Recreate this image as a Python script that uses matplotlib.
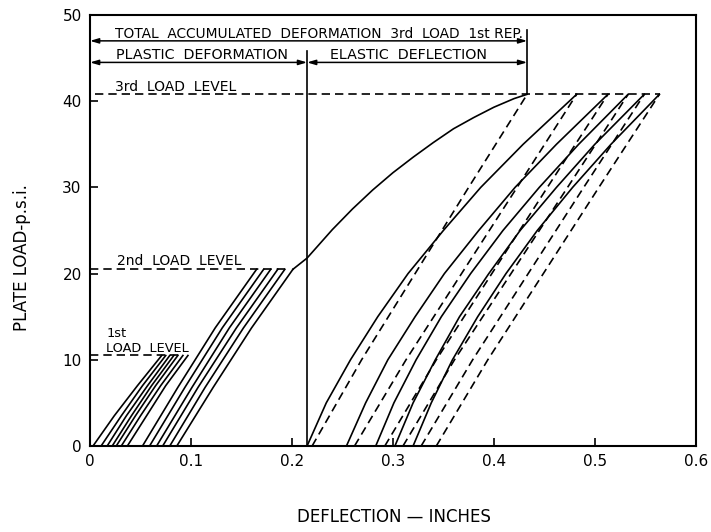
import matplotlib
matplotlib.use("Agg")
import matplotlib.pyplot as plt

## ========================================================
## data (deflection in inches, load in psi)
## ========================================================
load1 = 10.5
load2 = 20.5
load3 = 40.8

# 1st load level: x of each repetition at the load steps in rep1_y
rep1_y = [0, 3.5, 7.0, load1]
rep1_x = [
    [0.003, 0.024, 0.047, 0.071],
    [0.011, 0.031, 0.052, 0.075],
    [0.017, 0.036, 0.057, 0.079],
    [0.022, 0.041, 0.061, 0.083],
    [0.026, 0.045, 0.065, 0.087],
    [0.031, 0.050, 0.070, 0.092],
    [0.037, 0.056, 0.075, 0.097],
]

# 2nd load level
rep2_y = [0, 6.8, 13.7, load2]
rep2_x = [
    [0.052, 0.087, 0.124, 0.165],
    [0.059, 0.094, 0.131, 0.172],
    [0.066, 0.101, 0.138, 0.179],
    [0.072, 0.107, 0.145, 0.186],
    [0.079, 0.114, 0.152, 0.193],
    [0.086, 0.122, 0.160, 0.201],
]

# 3rd load, 1st repetition (continues the last 2nd-level curve)
first3_x = [0.201, 0.215, 0.240, 0.260, 0.280, 0.300, 0.320, 0.340,
            0.360, 0.380, 0.400, 0.420, 0.433]
first3_y = [20.5, 21.8, 25.1, 27.5, 29.7, 31.7, 33.5, 35.2,
            36.8, 38.1, 39.3, 40.3, 40.8]

# 3rd load, reloading (solid)
reload_y = [0, 5, 10, 15, 20, 25, 30, 35, load3]
reload_x = [
    [0.215, 0.234, 0.258, 0.285, 0.315, 0.350, 0.387, 0.429, 0.482],
    [0.254, 0.273, 0.295, 0.322, 0.351, 0.385, 0.421, 0.462, 0.513],
    [0.283, 0.301, 0.323, 0.348, 0.377, 0.409, 0.445, 0.484, 0.533],
    [0.302, 0.320, 0.342, 0.366, 0.395, 0.426, 0.462, 0.500, 0.549],
    [0.320, 0.338, 0.359, 0.384, 0.412, 0.443, 0.478, 0.516, 0.564],
]

# 3rd load, unloading (dashed)
unload_y = [0, 10, 20, 30, load3]
unload_x = [
    [0.220, 0.269, 0.322, 0.375, 0.433],
    [0.262, 0.313, 0.368, 0.423, 0.482],
    [0.292, 0.343, 0.398, 0.453, 0.513],
    [0.310, 0.361, 0.417, 0.473, 0.533],
    [0.328, 0.379, 0.434, 0.489, 0.549],
    [0.343, 0.394, 0.449, 0.504, 0.564],
]

plastic_end = 0.215
total_end = 0.433

x_ticks = [0, 0.1, 0.2, 0.3, 0.4, 0.5, 0.6]
x_ticklabels = ["0", "0.1", "0.2", "0.3", "0.4", "0.5", "0.6"]
y_ticks = [0, 10, 20, 30, 40, 50]


## ========================================================
## figure
## ========================================================
plt.rcParams["font.family"] = ["DejaVu Sans"]
fig = plt.figure(figsize=(7.11, 5.32), dpi=100)
ax = fig.add_axes([0.1266, 0.1617, 0.852, 0.8101])

lw = 1.2
dash = (0, (5, 3))

for xs in rep1_x:
    ax.plot(xs, rep1_y, color="black", lw=lw)
for xs in rep2_x:
    ax.plot(xs, rep2_y, color="black", lw=lw)
ax.plot(first3_x, first3_y, color="black", lw=lw)
for xs in reload_x:
    ax.plot(xs, reload_y, color="black", lw=lw)
for xs in unload_x:
    ax.plot(xs, unload_y, color="black", lw=lw, linestyle=dash)

# load level lines
ax.plot([0, 0.09], [load1, load1], color="black", lw=lw, linestyle=dash)
ax.plot([0, 0.195], [load2, load2], color="black", lw=lw, linestyle=dash)
ax.plot([0.005, 0.565], [load3, load3], color="black", lw=lw, linestyle=dash)

# dimension lines
ax.plot([plastic_end, plastic_end], [0, 45.8], color="black", lw=lw)
ax.plot([total_end, total_end], [load3, 48.3], color="black", lw=lw)

arrow = dict(arrowstyle="<|-|>,head_length=0.5,head_width=0.15",
             color="black", lw=1.1, shrinkA=0, shrinkB=0)
ax.annotate("", xy=(0, 47.0), xytext=(total_end, 47.0), arrowprops=arrow)
ax.annotate("", xy=(0, 44.5), xytext=(plastic_end, 44.5), arrowprops=arrow)
ax.annotate("", xy=(plastic_end, 44.5), xytext=(total_end, 44.5), arrowprops=arrow)

ax.text(0.0245, 47.75, "TOTAL  ACCUMULATED  DEFORMATION  3rd  LOAD  1st REP.",
        fontsize=9.9, va="center", ha="left")
ax.text(0.026, 45.35, "PLASTIC  DEFORMATION", fontsize=10.3, va="center", ha="left")
ax.text(0.238, 45.35, "ELASTIC  DEFLECTION", fontsize=10.3, va="center", ha="left")
ax.text(0.0245, 41.6, "3rd  LOAD  LEVEL", fontsize=10, va="center", ha="left")
ax.text(0.027, 21.5, "2nd  LOAD  LEVEL", fontsize=10, va="center", ha="left")
ax.text(0.016, 13.0, "1st", fontsize=9.3, va="center", ha="left")
ax.text(0.016, 11.3, "LOAD  LEVEL", fontsize=9.3, va="center", ha="left")

ax.set_xlim(0, 0.6)
ax.set_ylim(0, 50)
ax.set_xticks(x_ticks)
ax.set_xticklabels(x_ticklabels)
ax.set_yticks(y_ticks)
ax.tick_params(direction="in", length=6, width=1.2, labelsize=11, pad=6)
for s in ax.spines.values():
    s.set_linewidth(1.5)

fig.text(22 / 711, 1 - 258 / 532, "PLATE LOAD-p.s.i.", rotation=90,
         fontsize=12, ha="center", va="center")
fig.text(394 / 711, 1 - 517 / 532, "DEFLECTION \u2014 INCHES",
         fontsize=12, ha="center", va="center")

fig.savefig("out.png", dpi=100)
